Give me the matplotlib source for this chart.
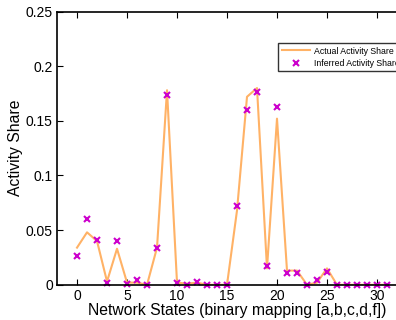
import numpy as np
import matplotlib.pyplot as plt

plt.rcParams['font.family'] = ['Liberation Sans', 'DejaVu Sans']

# network states 0..31
states = np.arange(32)

actual = [0.034, 0.048, 0.040, 0.003, 0.033, 0.002, 0.002, 0.000,
          0.034, 0.178, 0.002, 0.001, 0.002, 0.000, 0.000, 0.000,
          0.068, 0.172, 0.180, 0.015, 0.152, 0.013, 0.013, 0.000,
          0.002, 0.015, 0.000, 0.000, 0.000, 0.000, 0.000, 0.000]

inferred = [0.026, 0.060, 0.041, 0.002, 0.040, 0.001, 0.004, 0.000,
            0.034, 0.174, 0.002, 0.000, 0.003, 0.000, 0.000, 0.000,
            0.072, 0.160, 0.176, 0.017, 0.163, 0.011, 0.011, 0.000,
            0.004, 0.012, 0.000, 0.000, 0.000, 0.000, 0.000, 0.000]

xticks = [0, 5, 10, 15, 20, 25, 30]
yticks = [0, 0.05, 0.1, 0.15, 0.2, 0.25]
ytick_labels = ['0', '0.05', '0.1', '0.15', '0.2', '0.25']

fig = plt.figure(figsize=(3.96, 3.2), dpi=100)
ax = fig.add_axes([0.144, 0.110, 0.909, 0.854])

ax.plot(states, actual, color='#FFB266', lw=1.5, label='Actual Activity Share')
ax.plot(states, inferred, 'x', color='#CC00CC', ms=4, mew=1.5,
        label='Inferred Activity Share', clip_on=False)

ax.set_xlim(-2, 34)
ax.set_ylim(0, 0.25)
ax.set_xticks(xticks)
ax.set_yticks(yticks)
ax.set_yticklabels(ytick_labels)
ax.tick_params(direction='in', top=True, right=True, labelsize=10, length=4, pad=3)
for s in ax.spines.values():
    s.set_linewidth(1.2)

ax.set_xlabel('Network States (binary mapping [a,b,c,d,f])', fontsize=11.3, labelpad=0)
ax.set_ylabel('Activity Share', fontsize=11.3, labelpad=2)

leg = ax.legend(loc='upper left', bbox_to_anchor=(278 / 396, 1 - 43 / 320),
                bbox_transform=fig.transFigure, fontsize=6.3, frameon=True,
                fancybox=False, edgecolor='black', borderpad=0.4,
                handlelength=3.2, handletextpad=0.5, labelspacing=0.35,
                borderaxespad=0)
leg.get_frame().set_linewidth(1.0)

fig.savefig('out.png', dpi=100)
